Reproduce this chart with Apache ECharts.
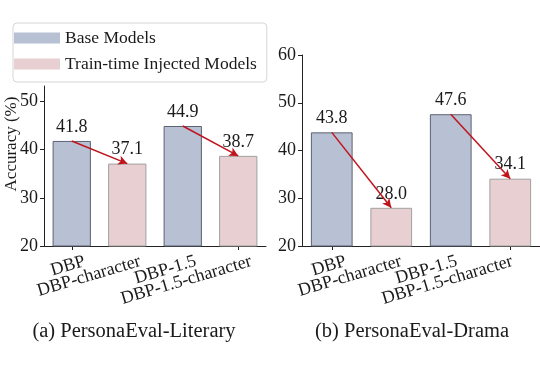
<!DOCTYPE html>
<html>
<head>
<meta charset="utf-8">
<script src="https://cdn.jsdelivr.net/npm/echarts@6/dist/echarts.min.js"></script>
<style>html,body{margin:0;padding:0;background:#fff;}#c{width:540px;height:372px;}</style>
</head>
<body>
<div id="c"></div>
<script>
const categories = ['DBP', 'DBP-character', 'DBP-1.5', 'DBP-1.5-character'];
const literaryValues = [41.8, 37.1, 44.9, 38.7];
const dramaValues = [43.8, 28.0, 47.6, 34.1];
const yTicks = [20, 30, 40, 50, 60];
const subtitles = ['(a) PersonaEval-Literary', '(b) PersonaEval-Drama'];
const seriesNames = ['Base Models', 'Train-time Injected Models'];

const FONT = '"Liberation Serif", "Times New Roman", serif';
const TXT = '#1a1a1a';
const BASE_COLOR = '#b8c0d3', BASE_EDGE = '#5c6270';
const INJ_COLOR = '#e8cfd2', INJ_EDGE = '#a0a0a0';
const ARROW = '#c0141c';

const panels = [
  {vals: literaryValues, grid: {left: 44, width: 222, top: 86, height: 160}, ymax: 53.2, labelDx: 13, labelMargin: 15, yName: 'Accuracy (%)'},
  {vals: dramaValues, grid: {left: 302, width: 242, top: 55, height: 191}, ymax: 60, labelDx: 16, labelMargin: 15, yName: ''}
];

const grids = [], xAxes = [], yAxes = [], series = [];
panels.forEach((p, i) => {
  grids.push(Object.assign({}, p.grid));
  xAxes.push({
    type: 'category', gridIndex: i, data: categories,
    axisLine: {show: true, lineStyle: {color: '#222', width: 1}},
    axisTick: {show: true, alignWithLabel: true, length: 4, lineStyle: {color: '#222'}},
    axisLabel: {show: false}, splitLine: {show: false}
  });
  const ticks = yTicks.filter(t => t <= p.ymax);
  yAxes.push({
    type: 'value', gridIndex: i, min: 20, max: p.ymax, interval: 10,
    name: p.yName, nameLocation: 'middle', nameGap: 24, nameMoveOverlap: false,
    nameTextStyle: {fontFamily: FONT, fontSize: 17, color: TXT, padding: [0, 0, 0, 44]},
    axisLine: {show: true, lineStyle: {color: '#222', width: 1}},
    axisTick: {show: true, length: 4, lineStyle: {color: '#222'}, customValues: ticks},
    axisLabel: {fontFamily: FONT, fontSize: 18, color: TXT, margin: 6, customValues: ticks},
    splitLine: {show: false}
  });
  const baseData = p.vals.map((v, k) => k % 2 === 0 ? v : '-');
  const injData = p.vals.map((v, k) => k % 2 === 1 ? v : '-');
  const lbl = {show: true, position: 'top', distance: 5, fontFamily: FONT, fontSize: 18, color: TXT,
    formatter: d => Number(d.value).toFixed(1)};
  series.push({
    type: 'bar', name: seriesNames[0], xAxisIndex: i, yAxisIndex: i, data: baseData,
    barWidth: p.grid.width / 4 * 0.69, barGap: '-100%',
    itemStyle: {color: BASE_COLOR, borderColor: BASE_EDGE, borderWidth: 1},
    label: lbl, z: 2,
    markLine: {
      silent: true, symbol: ['none', 'arrow'], symbolSize: [7, 9],
      label: {show: false},
      lineStyle: {color: ARROW, width: 1.5, type: 'solid'},
      emphasis: {disabled: true},
      data: [
        [{coord: [0, p.vals[0]]}, {coord: [1, p.vals[1]]}],
        [{coord: [2, p.vals[2]]}, {coord: [3, p.vals[3]]}]
      ]
    }
  });
  series.push({
    type: 'bar', name: seriesNames[1], xAxisIndex: i, yAxisIndex: i, data: injData,
    barWidth: p.grid.width / 4 * 0.69, barGap: '-100%',
    itemStyle: {color: INJ_COLOR, borderColor: INJ_EDGE, borderWidth: 1},
    label: lbl, z: 1
  });
});
// label-only axes (tick labels are right-aligned and offset to the right of each tick)
panels.forEach((p, i) => {
  const g = Object.assign({}, p.grid, {left: p.grid.left + p.labelDx});
  grids.push(g);
  const gi = grids.length - 1;
  xAxes.push({
    type: 'category', gridIndex: gi, data: categories,
    axisLine: {show: false}, axisTick: {show: false}, splitLine: {show: false},
    axisLabel: {show: true, interval: 0, rotate: 16.5, margin: p.labelMargin, fontFamily: FONT, fontSize: 18, color: TXT}
  });
  yAxes.push({type: 'value', gridIndex: gi, min: 20, max: p.ymax, show: false});
});

const chart = echarts.init(document.getElementById('c'), null, {renderer: 'canvas'});
chart.setOption({
  animation: false,
  backgroundColor: '#fff',
  grid: grids, xAxis: xAxes, yAxis: yAxes, series: series,
  legend: {
    orient: 'vertical', left: 13, top: 23,
    data: seriesNames,
    icon: 'rect', itemWidth: 46, itemHeight: 11, itemGap: 8,
    padding: [6, 10, 9, 1],
    borderColor: '#d6d6d6', borderWidth: 1, borderRadius: 4,
    backgroundColor: '#fff',
    textStyle: {fontFamily: FONT, fontSize: 17.5, color: TXT, padding: [0, 0, 0, 0]},
    itemStyle: {borderWidth: 0},
    selectedMode: false
  },
  title: subtitles.map((t, i) => ({
    text: t, left: i === 0 ? 129 : 407, top: 316, textAlign: 'center',
    textStyle: {fontFamily: FONT, fontSize: 20.5, fontWeight: 'normal', color: TXT}
  }))
});
</script>
</body>
</html>
